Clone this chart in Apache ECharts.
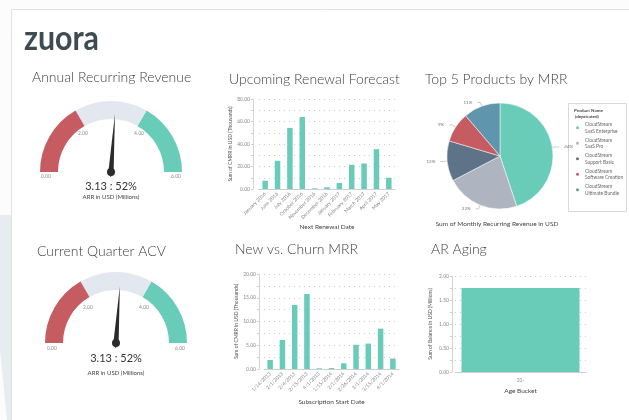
<!DOCTYPE html>
<html>
<head>
<meta charset="utf-8">
<script src="https://cdn.jsdelivr.net/npm/echarts@6/dist/echarts.min.js"></script>
<style>
  html, body { margin: 0; padding: 0; background: #fff; }
  #dash { width: 629px; height: 420px; }
</style>
</head>
<body>
<div id="dash"></div>
<script>
// ---- data ----
const gaugeMax = 6;
const arrValue = 3.13;
const acvValue = 3.13;

const renewalDates = [
  'January 2016', 'June 2016', 'July 2016', 'October 2016', 'November 2016',
  'December 2016', 'January 2017', 'February 2017', 'March 2017', 'April 2017', 'May 2017'
];
const renewalCmrr = [7.4, 25.1, 54.3, 64.0, 0.6, 1.5, 5.3, 21.5, 22.7, 35.4, 10.0];

const subscriptionDates = [
  '1/14/2013', '2/1/2013', '2/4/2013', '2/15/2013', '4/1/2013',
  '1/15/2014', '2/1/2014', '2/26/2014', '3/1/2014', '3/15/2014', '4/1/2014'
];
const newChurnCmrr = [1.9, 6.1, 13.5, 15.8, 0.15, 0.2, 1.2, 5.1, 5.35, 8.5, 2.2];

const ageBuckets = ['31-'];
const arBalance = [1.75];

const products = [
  'CloudStream SaaS Enterprise',
  'CloudStream SaaS Pro',
  'CloudStream Support Basic',
  'CloudStream Software Creation',
  'CloudStream Ultimate Bundle'
];
const productShare = [44, 22, 12, 9, 11];

// ---- styling ----
const FONT = 'Lato, "Noto Sans", sans-serif';
const TEAL = '#69ccb8';
const RED = '#c65c62';
const TRACK = '#e3e7f0';
const NEEDLE = '#2b2b2b';
const pieColors = [TEAL, '#afb5c0', '#5e7387', RED, '#6096ad'];

const chart = echarts.init(document.getElementById('dash'));

const labelEvery = step => v =>
  Math.abs(v / step - Math.round(v / step)) < 1e-6 ? v.toFixed(2) : '';

const gaugeSeries = (value, cx, cy, o) => [
  {
    type: 'gauge',
    center: [cx, cy],
    radius: 71,
    startAngle: 180,
    endAngle: 0,
    min: 0,
    max: gaugeMax,
    splitNumber: 3,
    axisLine: {
      lineStyle: { width: 18, color: [[1 / 3, RED], [2 / 3, TRACK], [1, TEAL]] }
    },
    splitLine: { show: false, length: 0, distance: 0 },
    axisTick: { show: false },
    axisLabel: {
      distance: 5,
      formatter: v => (v === 0 || v === gaugeMax ? '' : `{m|${v.toFixed(2)}}`),
      rich: { m: { fontSize: 5, color: '#8c8c8c', fontFamily: FONT, padding: [o.midPad, 0, 0, 0] } }
    },
    pointer: { width: 2.6, length: o.needle, itemStyle: { color: NEEDLE } },
    anchor: { show: true, size: 8, showAbove: true, itemStyle: { color: NEEDLE } },
    title: { offsetCenter: [0, o.unitY], fontSize: 6, color: '#444', fontFamily: FONT },
    detail: {
      offsetCenter: [0, o.valueY],
      fontSize: 11,
      fontWeight: 'normal',
      color: '#333',
      fontFamily: FONT,
      formatter: v => `${v.toFixed(2)} : ${Math.round((v / gaugeMax) * 100)}%`
    },
    data: [{ value, name: 'ARR in USD (Millions)' }]
  },
  {
    // end labels (0.00 / 6.00) sit under the ends of the band
    type: 'gauge',
    center: [cx, cy],
    radius: 71,
    startAngle: 180,
    endAngle: 0,
    min: 0,
    max: gaugeMax,
    splitNumber: 1,
    axisLine: { show: false },
    splitLine: { show: false, length: 0, distance: 0 },
    axisTick: { show: false },
    axisLabel: {
      distance: o.endDist,
      formatter: v => `{e|${v.toFixed(2)}}`,
      rich: { e: { fontSize: 5, color: '#8c8c8c', fontFamily: FONT, padding: [o.endPad, 0, 0, 0] } }
    },
    pointer: { show: false },
    anchor: { show: false },
    title: { show: false },
    detail: { show: false },
    data: [{ value: 0 }]
  }
];

const catAxis = (gridIndex, data, name, nameGap, rotate) => ({
  type: 'category',
  gridIndex,
  data,
  axisLine: { lineStyle: { color: '#cfcfcf' } },
  axisTick: { show: false },
  axisLabel: { rotate, interval: 0, fontSize: 5, color: '#888', margin: rotate ? 4 : 6, fontFamily: FONT },
  name,
  nameLocation: 'middle',
  nameGap,
  nameTextStyle: { fontSize: 6.5, color: '#444', fontFamily: FONT }
});

const valAxis = (gridIndex, max, interval, labelStep, offset, name, nameGap) => ({
  type: 'value',
  gridIndex,
  min: 0,
  max,
  interval,
  offset,
  axisLine: { show: true, lineStyle: { color: '#d4d4d4' } },
  axisTick: { show: true, length: 2, lineStyle: { color: '#cfcfcf' } },
  axisLabel: { fontSize: 5, color: '#888', margin: 3, fontFamily: FONT, formatter: labelEvery(labelStep) },
  splitLine: { lineStyle: { color: '#cdcdcd', type: [1, 4], width: 1 } },
  name,
  nameLocation: 'middle',
  nameGap,
  nameRotate: 90,
  nameTextStyle: { fontSize: 5, color: '#555', fontFamily: FONT }
});

const titleStyle = { fontSize: 14, fontWeight: 300, color: '#404040', fontFamily: FONT };

chart.setOption({
  animation: false,
  textStyle: { fontFamily: FONT },
  title: [
    { text: 'Annual Recurring Revenue', left: 32, top: 70, textStyle: titleStyle, padding: 0 },
    { text: 'Upcoming Renewal Forecast', left: 229, top: 72, textStyle: titleStyle, padding: 0 },
    { text: 'Top 5 Products by MRR', left: 425, top: 72, textStyle: titleStyle, padding: 0 },
    { text: 'Current Quarter ACV', left: 37, top: 244, textStyle: titleStyle, padding: 0 },
    { text: 'New vs. Churn MRR', left: 235, top: 242, textStyle: titleStyle, padding: 0 },
    { text: 'AR Aging', left: 431, top: 242, textStyle: titleStyle, padding: 0 }
  ],
  graphic: [
    { type: 'rect', z: -10, shape: { x: 0, y: 0, width: 629, height: 420 }, style: { fill: '#fcfcfc' } },
    {
      type: 'rect', z: -9,
      shape: { x: 11.5, y: 9.5, width: 640, height: 430 },
      style: { fill: '#fff', stroke: '#e1e1e1', lineWidth: 1 }
    },
    {
      type: 'polygon', z: -9,
      shape: { points: [[0, 215], [11, 215], [11, 420], [7, 420], [0, 350]] },
      style: { fill: '#e5edef' }
    },
    {
      type: 'text', x: 24, y: 38.5, scaleX: 0.82, scaleY: 0.95,
      style: { text: 'zuora', font: 'bold 37px Lato, sans-serif', fill: '#3d4b53', verticalAlign: 'middle' }
    },
    {
      type: 'rect',
      shape: { x: 568.5, y: 103.5, width: 58, height: 108 },
      style: { fill: '#fff', stroke: '#d9d9d9', lineWidth: 1 }
    },
    {
      type: 'text', x: 574, y: 108,
      style: {
        text: 'Product Name\n (depricated)', font: 'bold 4.5px Lato, sans-serif',
        fill: '#444', lineHeight: 6, verticalAlign: 'top'
      }
    },
    {
      type: 'text', x: 497, y: 224,
      style: {
        text: 'Sum of Monthly Recurring Revenue in USD', font: '6.5px Lato, sans-serif',
        fill: '#444', align: 'center', verticalAlign: 'middle'
      }
    }
  ],
  legend: {
    left: 574,
    top: 118,
    orient: 'vertical',
    padding: 0,
    itemGap: -4,
    icon: 'circle',
    itemWidth: 5,
    itemHeight: 5,
    data: products,
    formatter: name => name.replace(' ', '\n'),
    textStyle: { fontSize: 4.8, color: '#666', lineHeight: 6.5, padding: [6.5, 0, 0, 0], fontFamily: FONT }
  },
  grid: [
    { left: 259, top: 99, width: 136, height: 90 },
    { left: 264, top: 274, width: 135, height: 95 },
    { left: 455, top: 276, width: 131, height: 96 }
  ],
  xAxis: [
    catAxis(0, renewalDates, 'Next Renewal Date', 31, 45),
    catAxis(1, subscriptionDates, 'Subscription Start Date', 29.5, 45),
    catAxis(2, ageBuckets, 'Age Bucket', 15.5, 0)
  ],
  yAxis: [
    valAxis(0, 80, 10, 20, 6, 'Sum of CMRR in USD (Thousands)', 18.5),
    valAxis(1, 20, 2.5, 5, 5, 'Sum of CMRR in USD (Thousands)', 20.5),
    valAxis(2, 2, 0.25, 0.5, 3, 'Sum of Balance in USD (Millions)', 19.5)
  ],
  series: [
    ...gaugeSeries(arrValue, 111, 172, { needle: '82%', midPad: 16, endDist: 1, endPad: 8, valueY: 14, unitY: 25 }),
    ...gaugeSeries(acvValue, 116, 343, { needle: '80%', midPad: 19, endDist: 2, endPad: 10, valueY: 15, unitY: 30 }),
    {
      type: 'bar', xAxisIndex: 0, yAxisIndex: 0, data: renewalCmrr,
      barWidth: 5.5, itemStyle: { color: TEAL }
    },
    {
      type: 'bar', xAxisIndex: 1, yAxisIndex: 1, data: newChurnCmrr,
      barWidth: 5.5, itemStyle: { color: TEAL }
    },
    {
      type: 'bar', xAxisIndex: 2, yAxisIndex: 2, data: arBalance,
      barWidth: 118, itemStyle: { color: TEAL }
    },
    {
      type: 'pie',
      center: [500, 156],
      radius: 53,
      startAngle: 90,
      clockwise: true,
      color: pieColors,
      data: products.map((name, i) => ({ name, value: productShare[i] })),
      label: { formatter: '{c}%', fontSize: 4.5, color: '#777', fontFamily: FONT },
      labelLine: { length: 4, length2: 3, lineStyle: { color: '#aaa', width: 0.6 } },
      itemStyle: { borderColor: '#fff', borderWidth: 0.5 }
    }
  ]
});
</script>
</body>
</html>
